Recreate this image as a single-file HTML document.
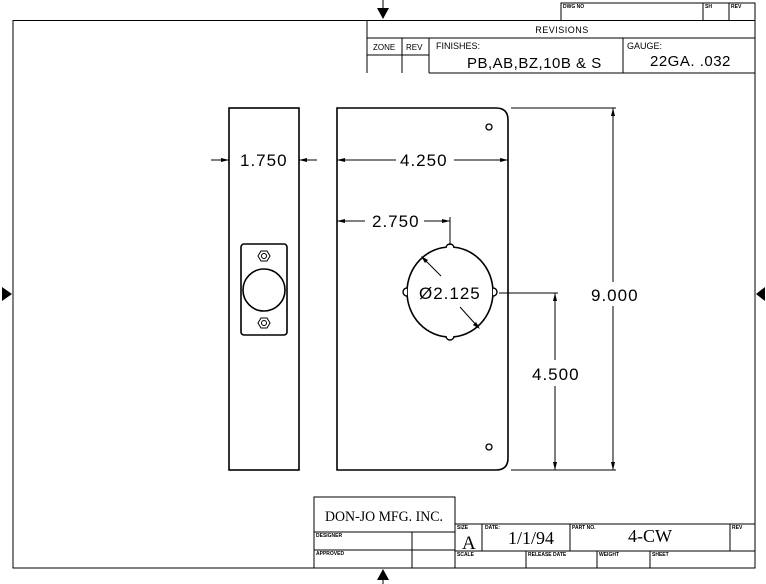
<!DOCTYPE html>
<html><head><meta charset="utf-8"><style>
html,body{margin:0;padding:0;background:#fff;}
svg{display:block;}
text{font-family:"Liberation Sans",sans-serif;fill:#000;}
.d{font-size:17px;letter-spacing:1px;}
.s{font-size:5px;font-weight:bold;}
</style></head><body>
<svg width="766" height="584" viewBox="0 0 766 584" xmlns="http://www.w3.org/2000/svg">
<g fill="none" stroke="#000" stroke-width="1">
<rect x="13" y="20.5" width="742" height="547.5"/>
<path d="M561 20V3H755V20M703 3V20M729 3V20"/>
<path d="M367 20V73M367 38H755M367 55H429M402 38V73M429 38V73M429 73H755M623 38V73"/>
<path d="M314 568V497H455V568M314 532H455M314 550H455M412 532V568M455 524H755M455 551H755M482 524V551M570 524V551M730 524V551M526 551V568M597 551V568M650 551V568"/>
</g>
<g fill="#000">
<path d="M383 0V8" stroke="#000"/><polygon points="377,8 389,8 383,19"/>
<path d="M383 584V576" stroke="#000"/><polygon points="377,580 389,580 383,569"/>
<polygon points="2,287 2,301 12,294"/><polygon points="765,287 765,301 756,294"/>
</g>
<g fill="none" stroke="#000" stroke-width="1.6">
<rect x="229" y="108" width="70" height="362"/>
<path d="M337 108H496Q508 108 508 120V458Q508 470 496 470H337Z"/>
<rect x="241" y="244" width="46" height="91" rx="3"/>
<circle cx="264" cy="290" r="21"/>
<circle cx="489" cy="127" r="3" stroke-width="1.3"/>
<circle cx="489" cy="447" r="3" stroke-width="1.3"/>
<ellipse cx="450" cy="292" rx="43" ry="45"/>
</g>
<g fill="#fff" stroke="#000" stroke-width="1.4">
<path d="M446 248A4 4 0 0 1 454 248"/><path d="M446 336A4 4 0 0 0 454 336"/>
<path d="M407 288A4 4 0 0 0 407 296"/><path d="M493 288A4 4 0 0 1 493 296"/>
</g>
<g fill="none" stroke="#000" stroke-width="1">
<polygon points="258,256 261,251 267,251 270,256 267,261 261,261"/><circle cx="264" cy="256" r="2.5"/>
<polygon points="258,323 261,318 267,318 270,323 267,328 261,328"/><circle cx="264" cy="323" r="2.5"/>
<path d="M211 160H229M299 160H317"/>
<path d="M337 160H396M454 160H508"/>
<path d="M337 221H365M424 221H450M450 217V245"/>
<path d="M511 108H616M511 470H616M613 108V282M613 306V470"/>
<path d="M499 293H558M555 293V360M555 386V470"/>
<path d="M423 258L441 276M460 307L478 327"/>
</g>
<g fill="#000">
<polygon points="229,160 221,158 221,162"/><polygon points="299,160 307,158 307,162"/>
<polygon points="337,160 345,158 345,162"/><polygon points="508,160 500,158 500,162"/>
<polygon points="337,221 345,219 345,223"/><polygon points="450,221 442,219 442,223"/>
<polygon points="613,108 611,116 615,116"/><polygon points="613,470 611,462 615,462"/>
<polygon points="555,293 553,301 557,301"/><polygon points="555,470 553,462 557,462"/>
<polygon points="421,256 428,260 425,263"/><polygon points="480,329 473,325 476,322"/>
</g>
<text class="d" x="240" y="166">1.750</text>
<text class="d" x="400" y="166">4.250</text>
<text class="d" x="372" y="227">2.750</text>
<text class="d" x="419" y="299">Ø2.125</text>
<text class="d" x="591" y="301">9.000</text>
<text class="d" x="532" y="380">4.500</text>
<text x="562" y="33" font-size="9" text-anchor="middle" letter-spacing="0.5">REVISIONS</text>
<text x="373" y="50" font-size="8">ZONE</text>
<text x="406" y="50" font-size="8">REV</text>
<text x="436" y="49" font-size="9">FINISHES:</text>
<text x="467" y="68" font-size="15" letter-spacing="0.5">PB,AB,BZ,10B &amp; S</text>
<text x="627" y="49" font-size="9">GAUGE:</text>
<text x="650" y="66" font-size="15" letter-spacing="0.5">22GA. .032</text>
<text class="s" x="563" y="8">DWG NO</text><text class="s" x="705" y="8">SH</text><text class="s" x="731" y="8">REV</text>
<text x="325" y="521" font-size="15" textLength="118" lengthAdjust="spacingAndGlyphs" style="font-family:'Liberation Serif',serif">DON-JO MFG. INC.</text>
<text class="s" x="316" y="537">DESIGNER</text><text class="s" x="316" y="555">APPROVED</text>
<text class="s" x="457" y="529">SIZE</text><text class="s" x="485" y="529">DATE:</text>
<text class="s" x="572" y="529">PART NO.</text><text class="s" x="732" y="529">REV</text>
<text class="s" x="457" y="556">SCALE</text><text class="s" x="528" y="556">RELEASE DATE</text>
<text class="s" x="599" y="556">WEIGHT</text><text class="s" x="652" y="556">SHEET</text>
<text x="462" y="549" font-size="19" style="font-family:'Liberation Serif',serif">A</text>
<text x="508" y="544" font-size="18" style="font-family:'Liberation Serif',serif">1/1/94</text>
<text x="628" y="542" font-size="18" style="font-family:'Liberation Serif',serif">4-CW</text>
</svg>
</body></html>
